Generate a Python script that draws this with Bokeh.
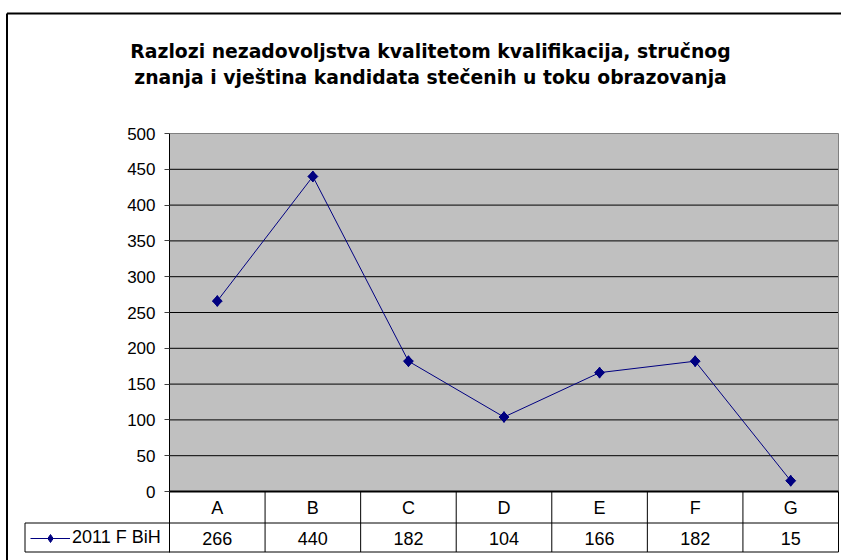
import math
from bokeh.plotting import figure
from bokeh.models import Range1d, FixedTicker, Legend, LegendItem
from bokeh.core.properties import value
from bokeh.embed import file_html
from bokeh.resources import INLINE

# ---------------- data ----------------
title_lines = [
    "Razlozi nezadovoljstva kvalitetom kvalifikacija, stručnog",
    "znanja i vještina kandidata stečenih u toku obrazovanja",
]
categories = ["A", "B", "C", "D", "E", "F", "G"]
values = [266, 440, 182, 104, 166, 182, 15]
series_name = "2011 F BiH"
yticks = [0, 50, 100, 150, 200, 250, 300, 350, 400, 450, 500]
grid_ticks = [50, 100, 150, 200, 250, 300, 350, 400, 450]

# ---------------- layout (canvas px -> data) ----------------
FONT = "Liberation Sans"
TITLE_FONT = "DejaVu Sans"
W, H = 841, 560
PLOT_L, PLOT_R, PLOT_T, PLOT_B = 169, 838, 133, 491   # plot area in px
YMAX = 500
PX = YMAX / (PLOT_B - PLOT_T)                         # data units per vertical px
UX = (PLOT_R - PLOT_L) / len(categories)              # px per category


def dx(px):
    return (px - PLOT_L) / UX


def dy(py):
    return (PLOT_B - py) * PX


p = figure(width=W, height=H, x_range=Range1d(dx(0), dx(W)), y_range=Range1d(dy(H), dy(0)),
           x_axis_location=None, output_backend="svg", toolbar_location=None,
           min_border_left=0, min_border_right=0, min_border_top=0, min_border_bottom=0)
p.outline_line_color = None
p.background_fill_color = "white"
p.border_fill_color = "white"
p.xgrid.visible = False
p.ygrid.visible = False

n = len(categories)
xs = [i + 0.5 for i in range(n)]
ROW1 = dy(522.5)
BOT = dy(551.5)
LEG_L = dx(24.5)

# plot area
p.quad(left=[0], right=[n], bottom=[0], top=[YMAX], fill_color="#C0C0C0", line_color=None)
p.segment(x0=[0] * len(grid_ticks), y0=grid_ticks, x1=[n] * len(grid_ticks), y1=grid_ticks,
          line_color="black", line_width=1)
p.segment(x0=[0, n], y0=[YMAX, 0], x1=[n, n], y1=[YMAX, YMAX], line_color="#808080", line_width=1)

# y axis (fixed inside the frame)
ax = p.yaxis[0]
ax.fixed_location = 0
ax.bounds = (BOT, YMAX)
ax.ticker = FixedTicker(ticks=yticks, minor_ticks=[])
ax.major_tick_out = 5
ax.major_tick_in = 0
ax.minor_tick_out = 0
ax.major_label_standoff = 9
ax.axis_line_color = "black"
ax.major_tick_line_color = "#404040"
ax.major_label_text_font = FONT
ax.major_label_text_font_size = "17px"
ax.major_label_text_color = "black"

# data table
p.segment(x0=list(range(1, n + 1)), y0=[0] * n, x1=list(range(1, n + 1)), y1=[BOT] * n,
          line_color="black", line_width=1)
p.segment(x0=[0, LEG_L, LEG_L], y0=[ROW1, ROW1, ROW1], x1=[n, 0, LEG_L], y1=[ROW1, ROW1, BOT],
          line_color="black", line_width=1)
p.segment(x0=[LEG_L], y0=[BOT], x1=[n], y1=[BOT], line_color="black", line_width=1)
p.segment(x0=[0], y0=[0], x1=[n], y1=[0], line_color="black", line_width=2)

p.text(x=xs, y=[dy(507)] * n, text=categories, text_align="center", text_baseline="middle",
       text_font=value(FONT), text_font_size="18px", text_color="black")
p.text(x=xs, y=[dy(538)] * n, text=[str(v) for v in values], text_align="center",
       text_baseline="middle", text_font=value(FONT), text_font_size="18px", text_color="black")

# series
line_r = p.line(x=xs, y=values, line_color="#000080", line_width=1)
pts_r = p.scatter(x=xs, y=values, marker="diamond", size=11, fill_color="#000080",
                  line_color="#000080")
p.scatter(x=xs, y=values, marker="square", size=7, angle=math.pi / 4,
          fill_color="#000080", line_color="#000080")

legend = Legend(items=[LegendItem(label=series_name, renderers=[line_r, pts_r])],
                location=(30, H - 548), border_line_alpha=0, background_fill_alpha=0,
                padding=0, margin=0, spacing=0, glyph_width=40, glyph_height=20,
                label_height=20, label_standoff=2, label_text_font=FONT,
                label_text_font_size="18px", label_text_color="black")
p.add_layout(legend)

# outer chart border
p.segment(x0=[dx(6.5), dx(6.5)], y0=[dy(13), dy(13)], x1=[dx(6.5), dx(W + 5)], y1=[dy(H + 5), dy(13)],
          line_color="black", line_width=2)

# title
p.text(x=[dx(430)] * 2, y=[dy(51), dy(77)], text=title_lines, text_align="center",
       text_baseline="alphabetic", text_font=value(TITLE_FONT), text_font_size="18.8px",
       text_font_style="bold", text_color="black")

open("out.html", "w").write(file_html(p, INLINE))
